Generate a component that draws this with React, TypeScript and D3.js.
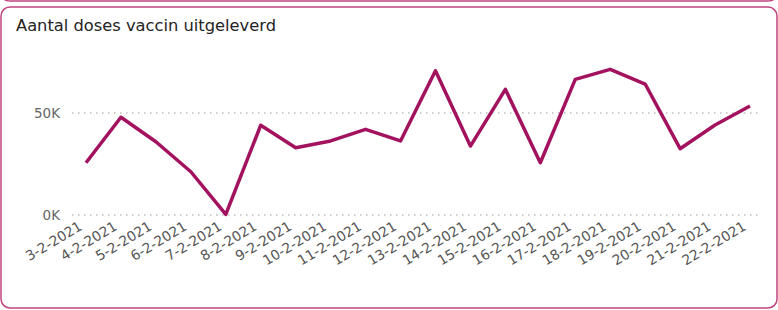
import React from "react";
import * as d3 from "d3";

const dates = [
  "3-2-2021", "4-2-2021", "5-2-2021", "6-2-2021", "7-2-2021", "8-2-2021", "9-2-2021",
  "10-2-2021", "11-2-2021", "12-2-2021", "13-2-2021", "14-2-2021", "15-2-2021",
  "16-2-2021", "17-2-2021", "18-2-2021", "19-2-2021", "20-2-2021", "21-2-2021", "22-2-2021",
];
const doses = [
  25600, 47900, 35900, 21200, 300, 44000, 33000, 36300, 42000, 36300,
  70700, 33800, 61600, 25600, 66500, 71400, 64200, 32500, 44100, 53400,
];
const yTicks = [0, 50000];
const title = "Aantal doses vaccin uitgeleverd";

const W = 778;
const H = 310;
const COLOR = "#a3125e";

export default function App() {
  const x = d3.scalePoint<string>().domain(dates).range([86, 750]);
  const y = d3.scaleLinear().domain([0, 50000]).range([215, 113]);
  const line = d3
    .line<number>()
    .x((_, i) => x(dates[i]) as number)
    .y((d) => y(d));
  const fmt = (v: number) => `${v / 1000}K`;

  return (
    <svg
      width={W}
      height={H}
      style={{ position: "absolute", left: 0, top: 0, background: "#fff" }}
      fontFamily="'DejaVu Sans', Verdana, sans-serif"
    >
      <path d="M 2 -10 L 2 -6 Q 2 1 10 1 L 768 1 Q 776 1 776 -6 L 776 -10" fill="none" stroke="#c0457f" strokeWidth={1.5} />
      <rect x={1} y={7} width={776} height={301} rx={9} fill="#fff" stroke="#c0457f" strokeWidth={1.5} />
      <text x={16} y={31} fontSize={16.3} fill="#252423">{title}</text>
      {yTicks.map((t) => (
        <g key={t}>
          <line x1={72} x2={760} y1={y(t)} y2={y(t)} stroke="#bdbdbd" strokeWidth={1.3} strokeDasharray="1.5 4.5" />
          <text x={60} y={y(t)} dy="0.36em" textAnchor="end" fontSize={13.5} fill="#666">
            {fmt(t)}
          </text>
        </g>
      ))}
      {dates.map((d) => (
        <text
          key={d}
          transform={`translate(${(x(d) as number) - 3},${229}) rotate(-31)`}
          textAnchor="end"
          fontSize={13.8}
          fill="#555"
        >
          {d}
        </text>
      ))}
      <path d={line(doses) || ""} fill="none" stroke={COLOR} strokeWidth={3.5} strokeLinejoin="round" />
    </svg>
  );
}
